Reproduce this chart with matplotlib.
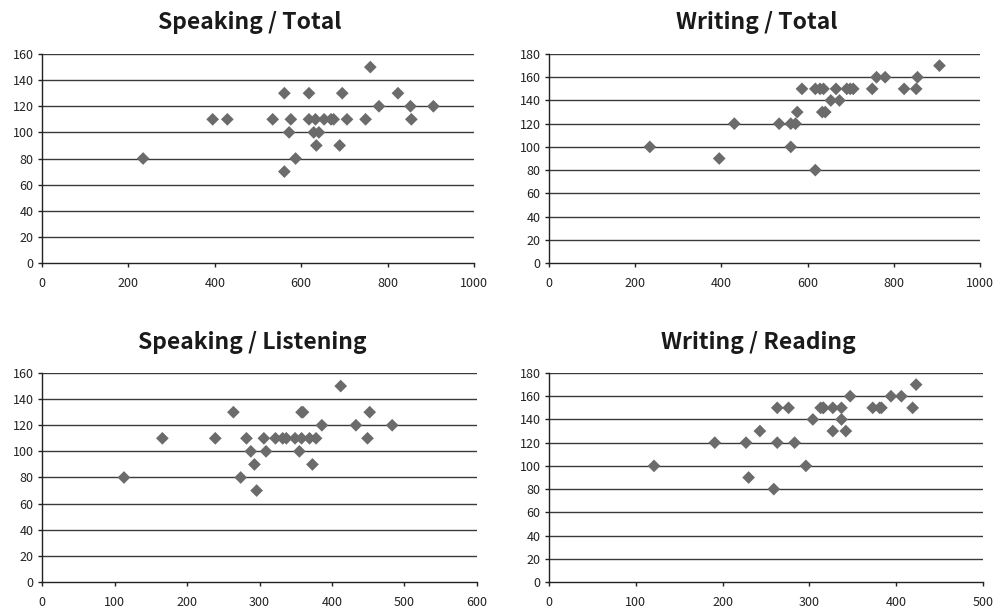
import matplotlib.pyplot as plt

# Total score vs. Speaking
total_sp = [234, 395, 429, 534, 561, 561, 576, 572, 587, 618, 618, 633, 629, 641,
            635, 653, 669, 675, 695, 689, 706, 749, 760, 780, 824, 853, 855, 906]
speaking_t = [80, 110, 110, 110, 130, 70, 110, 100, 80, 130, 110, 110, 100, 100,
              90, 110, 110, 110, 130, 90, 110, 110, 150, 120, 130, 120, 110, 120]

# Total score vs. Writing
total_wr = [234, 395, 430, 534, 561, 561, 572, 576, 587, 618, 618, 629, 637, 634,
            641, 654, 666, 674, 691, 699, 706, 750, 760, 780, 824, 852, 855, 906]
writing_t = [100, 90, 120, 120, 120, 100, 120, 130, 150, 150, 80, 150, 150, 130,
             130, 140, 150, 140, 150, 150, 150, 150, 160, 160, 150, 150, 160, 170]

# Listening vs. Speaking
listening = [113, 166, 239, 264, 274, 282, 288, 293, 296, 306, 309, 322, 332, 337,
             349, 355, 358, 360, 358, 369, 373, 378, 386, 412, 433, 449, 452, 483]
speaking_l = [80, 110, 110, 130, 80, 110, 100, 90, 70, 110, 100, 110, 110, 110,
              110, 100, 130, 130, 110, 110, 90, 110, 120, 150, 120, 110, 130, 120]

# Reading vs. Writing
reading = [121, 191, 227, 230, 243, 259, 263, 263, 276, 283, 296, 304, 313, 316,
           316, 327, 327, 337, 337, 342, 347, 373, 381, 383, 394, 406, 419, 423]
writing_r = [100, 120, 120, 90, 130, 80, 150, 120, 150, 120, 100, 140, 150, 150,
             150, 130, 150, 150, 140, 130, 160, 150, 150, 150, 160, 160, 150, 170]

plt.rcParams['font.family'] = ['Noto Sans CJK JP', 'DejaVu Sans']

fig = plt.figure(figsize=(9.96, 6.07), dpi=100)
fig.patch.set_facecolor('white')

panels = [
    # rect, title, title pos, x, y, xmax, ymax, xstep
    ([0.0422, 0.5667, 0.4337, 0.3443], "Speaking / Total", (250, 23),
     total_sp, speaking_t, 1000, 160, 200),
    ([0.5512, 0.5667, 0.4327, 0.3443], "Writing / Total", (757, 23),
     total_wr, writing_t, 1000, 180, 200),
    ([0.0422, 0.0412, 0.4367, 0.3443], "Speaking / Listening", (252, 343),
     listening, speaking_l, 600, 160, 100),
    ([0.5512, 0.0412, 0.4357, 0.3443], "Writing / Reading", (758, 343),
     reading, writing_r, 500, 180, 100),
]

for rect, title, (tx, ty), xs, ys, xmax, ymax, xstep in panels:
    ax = fig.add_axes(rect)
    ax.set_xlim(0, xmax)
    ax.set_ylim(0, ymax)
    ax.set_xticks(range(0, xmax + 1, xstep))
    ax.set_yticks(range(0, ymax + 1, 20))

    # horizontal gridlines at every y tick
    for yv in range(20, ymax + 1, 20):
        ax.axhline(yv, color='#3a3a3a', linewidth=1.0, zorder=1)

    ax.scatter(xs, ys, marker='D', s=42, color='#6b6b6b', edgecolors='none',
               zorder=3, clip_on=False)

    for side in ['top', 'right']:
        ax.spines[side].set_visible(False)
    for side in ['left', 'bottom']:
        ax.spines[side].set_color('#222222')
        ax.spines[side].set_linewidth(1.0)

    ax.tick_params(axis='x', direction='out', length=3, width=1, color='#222222',
                   labelsize=9, labelcolor='#222222', pad=7)
    ax.tick_params(axis='y', direction='out', length=3, width=1, color='#222222',
                   labelsize=9, labelcolor='#222222', pad=3)

    fig.text(tx / 996, 1 - ty / 607, title, ha='center', va='center',
             fontsize=16.5, fontweight='bold', color='#1a1a1a')

fig.savefig('out.png', dpi=100)
